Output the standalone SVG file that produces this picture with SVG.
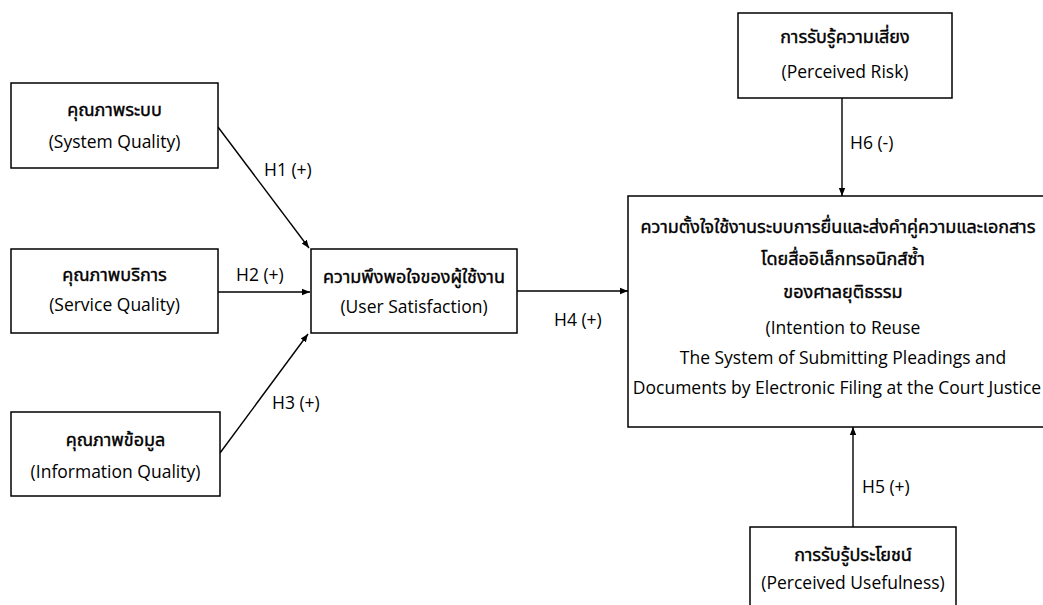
<svg xmlns="http://www.w3.org/2000/svg" width="1043" height="605" viewBox="0 0 1043 605">
<style>
.box{fill:#fff;stroke:#000;stroke-width:1.5}
.t{font-family:"Open Sans","Noto Sans","DejaVu Sans",sans-serif;font-size:17.5px;fill:#000;text-anchor:middle}
.th{font-family:"Noto Sans Thai","Loma","Garuda","Tlwg Typo","Open Sans","Noto Sans",sans-serif;font-size:18px;font-weight:normal;fill:#000;stroke:#000;stroke-width:0.4;text-anchor:middle}
.lbl{font-family:"Open Sans","Noto Sans",sans-serif;font-size:17.5px;fill:#000}
.c{stroke:#000;stroke-width:1.4;fill:none;marker-end:url(#ah)}
</style>
<defs>
<marker id="ah" viewBox="0 0 10 10" refX="10" refY="5" markerWidth="8" markerHeight="8" markerUnits="userSpaceOnUse" orient="auto">
<path d="M0,1 L10,5 L0,9 z" fill="#000"/>
</marker>
</defs>
<rect width="1043" height="605" fill="#fff"/>
<g id="connectors">
<line class="c" x1="218" y1="127" x2="309" y2="248"/>
<line class="c" x1="218" y1="292" x2="310" y2="292"/>
<line class="c" x1="220" y1="453" x2="308" y2="334"/>
<line class="c" x1="517" y1="291" x2="628" y2="291"/>
<line class="c" x1="842" y1="98" x2="842" y2="196"/>
<line class="c" x1="853" y1="527" x2="853" y2="427"/>
<text class="lbl" x="264" y="176">H1 (+)</text>
<text class="lbl" x="236" y="281">H2 (+)</text>
<text class="lbl" x="272" y="409">H3 (+)</text>
<text class="lbl" x="554" y="326">H4 (+)</text>
<text class="lbl" x="862" y="493">H5 (+)</text>
<text class="lbl" x="850" y="149">H6 (-)</text>
</g>
<g id="system-quality">
<rect class="box" x="11" y="83" width="207" height="85"/>
<text class="th" x="114.5" y="116">คุณภาพระบบ</text>
<text class="t" x="114.5" y="148">(System Quality)</text>
</g>
<g id="service-quality">
<rect class="box" x="11" y="249" width="207" height="84"/>
<text class="th" x="114.5" y="281">คุณภาพบริการ</text>
<text class="t" x="114.5" y="311">(Service Quality)</text>
</g>
<g id="information-quality">
<rect class="box" x="11" y="412" width="209" height="84"/>
<text class="th" x="115.5" y="446">คุณภาพข้อมูล</text>
<text class="t" x="115.5" y="478">(Information Quality)</text>
</g>
<g id="user-satisfaction">
<rect class="box" x="311" y="249" width="206" height="84"/>
<text class="th" x="414" y="283">ความพึงพอใจของผู้ใช้งาน</text>
<text class="t" x="414" y="313">(User Satisfaction)</text>
</g>
<g id="intention-to-reuse">
<rect class="box" x="628" y="196" width="430" height="231"/>
<text class="th" x="838" y="233">ความตั้งใจใช้งานระบบการยื่นและส่งคำคู่ความและเอกสาร</text>
<text class="th" x="843" y="265">โดยสื่ออิเล็กทรอนิกส์ซ้ำ</text>
<text class="th" x="843" y="298">ของศาลยุติธรรม</text>
<text class="t" x="843" y="334">(Intention to Reuse</text>
<text class="t" x="843" y="364">The System of Submitting Pleadings and</text>
<text class="t" x="837" y="394">Documents by Electronic Filing at the Court Justice</text>
</g>
<g id="perceived-risk">
<rect class="box" x="738" y="13" width="214" height="85"/>
<text class="th" x="845" y="43">การรับรู้ความเสี่ยง</text>
<text class="t" x="845" y="78">(Perceived Risk)</text>
</g>
<g id="perceived-usefulness">
<rect class="box" x="750" y="527" width="206" height="90"/>
<text class="th" x="853" y="561">การรับรู้ประโยชน์</text>
<text class="t" x="853" y="589">(Perceived Usefulness)</text>
</g>
</svg>
